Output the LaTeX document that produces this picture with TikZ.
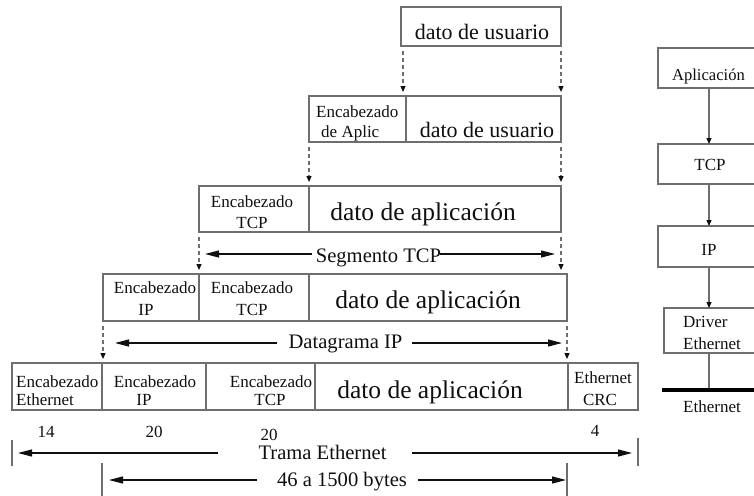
\documentclass[tikz,border=0pt]{standalone}
\usepackage{fontspec}
\setmainfont{Liberation Serif}
\usetikzlibrary{arrows.meta}
\definecolor{lg}{RGB}{110,110,110}
\definecolor{ink}{RGB}{15,15,15}
\begin{document}
\begin{tikzpicture}[x=1pt,y=-1pt,
  cell/.style={draw=lg, line width=1.3pt, inner sep=0pt, outer sep=0pt},
  sm/.style={font=\fontsize{17}{20}\selectfont, inner sep=0pt, anchor=base, text=ink},
  smw/.style={sm, anchor=base west},
  med/.style={font=\fontsize{20.6}{24}\selectfont, inner sep=0pt, anchor=base, text=ink},
  usr/.style={font=\fontsize{22}{26}\selectfont, inner sep=0pt, anchor=base, text=ink},
  apl/.style={font=\fontsize{25.5}{30}\selectfont, inner sep=0pt, anchor=base, text=ink},
  darr/.style={draw=lg, line width=1.2pt, dash pattern=on 4pt off 3pt,
    shorten <=5pt, shorten >=4pt, -{Triangle[length=6pt,width=5pt,color=ink]}},
  harr/.style={draw=ink, line width=1.2pt, -{Triangle[length=14pt,width=7pt]}},
  varr/.style={draw=lg, line width=1.2pt, -{Triangle[length=6pt,width=5pt,color=ink]}},
  bar/.style={draw=lg, line width=1.3pt}
]
\path[use as bounding box] (0,0) rectangle (754,495);
\clip (0,0) rectangle (754,495);

% ---------- Row 1
\node[cell, minimum width=160pt, minimum height=39pt] (r1) at (481,26.5) {};
\node[usr] (t1) at (482,40) {dato de usuario};

% ---------- Row 2
\node[cell, minimum width=97pt, minimum height=46pt] (r2a) at (357.5,119) {};
\node[cell, minimum width=155pt, minimum height=46pt] (r2b) at (483.5,119) {};
\node[smw] (t2a) at (316,117) {Encabezado};
\node[smw] (t2b) at (321,137) {de Aplic};
\node[usr] (t2c) at (487,137) {dato de usuario};

% ---------- Row 3
\node[cell, minimum width=110pt, minimum height=46pt] (r3a) at (254,209) {};
\node[cell, minimum width=252pt, minimum height=46pt] (r3b) at (435,209) {};
\node[sm] (t3a) at (252,207) {Encabezado};
\node[sm] (t3b) at (252,228) {TCP};
\node[apl] (t3c) at (423,220) {dato de aplicación};

% ---------- Row 4
\node[cell, minimum width=96pt, minimum height=47pt] (r4a) at (151,297.5) {};
\node[cell, minimum width=110pt, minimum height=47pt] (r4b) at (254,297.5) {};
\node[cell, minimum width=258pt, minimum height=47pt] (r4c) at (438,297.5) {};
\node[sm] (t4a) at (155,293) {Encabezado};
\node[sm] (t4b) at (146,315) {IP};
\node[sm] (t4c) at (252,293) {Encabezado};
\node[sm] (t4d) at (252,315) {TCP};
\node[apl] (t4e) at (428,308) {dato de aplicación};

% ---------- Row 5
\node[cell, minimum width=90pt, minimum height=47pt] (r5a) at (57,386.5) {};
\node[cell, minimum width=104pt, minimum height=47pt] (r5b) at (154,386.5) {};
\node[cell, minimum width=109pt, minimum height=47pt] (r5c) at (260.5,386.5) {};
\node[cell, minimum width=253pt, minimum height=47pt] (r5d) at (441.5,386.5) {};
\node[cell, minimum width=70pt, minimum height=47pt] (r5e) at (603,386.5) {};
\node[smw] (t5a) at (16,387) {Encabezado};
\node[smw] (t5b) at (16,405) {Ethernet};
\node[sm] (t5c) at (155,387) {Encabezado};
\node[sm] (t5d) at (144,405) {IP};
\node[sm] (t5e) at (271,387) {Encabezado};
\node[sm] (t5f) at (270,405) {TCP};
\node[apl] (t5g) at (430,398) {dato de aplicación};
\node[sm] (t5h) at (603,383) {Ethernet};
\node[sm] (t5i) at (600,405) {CRC};

% ---------- dashed arrows between rows
\draw[darr] ([xshift=2pt]r1.south west) -- ([xshift=2pt]r1.south west |- r2b.north);
\draw[darr] (r1.south east) -- (r1.south east |- r2b.north);
\draw[darr] (r2a.south west) -- (r2a.south west |- r3a.north);
\draw[darr] (r2b.south east) -- (r2b.south east |- r3b.north);
\draw[darr] (r3a.south west) -- (r3a.south west |- r4a.north);
\draw[darr] (r3b.south east) -- (r3b.south east |- r4c.north);
\draw[darr] (r4a.south west) -- (r4a.south west |- r5b.north);
\draw[darr] (r4c.south east) -- (r4c.south east |- r5d.north);

% ---------- Segmento TCP
\node[med] (seg) at (378.5,262) {Segmento TCP};
\coordinate (segL) at (205,254);
\coordinate (segR) at (555,254);
\coordinate (segLs) at (312,254);
\coordinate (segRs) at (440,254);
\draw[harr] (segLs) -- (segL);
\draw[harr] (segRs) -- (segR);

% ---------- Datagrama IP
\node[med] (dat) at (345.5,348) {Datagrama IP};
\coordinate (datL) at (115,343);
\coordinate (datR) at (562,343);
\coordinate (datLs) at (277,343);
\coordinate (datRs) at (412,343);
\draw[harr] (datLs) -- (datL);
\draw[harr] (datRs) -- (datR);

% ---------- byte counts
\node[sm] (n14) at (46,437) {14};
\node[sm] (n20a) at (154,437) {20};
\node[sm] (n20b) at (269,440) {20};
\node[sm] (n4) at (595,436) {4};

% ---------- Trama Ethernet
\node[med] (tra) at (322.5,459) {Trama Ethernet};
\coordinate (trbL1) at (12,440);
\coordinate (trbL2) at (12,466);
\coordinate (trbR1) at (638,438);
\coordinate (trbR2) at (638,466);
\draw[bar] (trbL1) -- (trbL2);
\draw[bar] (trbR1) -- (trbR2);
\coordinate (traL) at (18,453);
\coordinate (traR) at (632,453);
\coordinate (traLs) at (218,453);
\coordinate (traRs) at (412,453);
\draw[harr] (traLs) -- (traL);
\draw[harr] (traRs) -- (traR);

% ---------- 46 a 1500 bytes
\node[med] (byt) at (342,486) {46 a 1500 bytes};
\coordinate (bybL1) at (102,463);
\coordinate (bybL2) at (102,496);
\coordinate (bybR1) at (567,463);
\coordinate (bybR2) at (567,496);
\draw[bar] (bybL1) -- (bybL2);
\draw[bar] (bybR1) -- (bybR2);
\coordinate (bytL) at (109,480);
\coordinate (bytR) at (566,480);
\coordinate (bytLs) at (257,480);
\coordinate (bytRs) at (418,480);
\draw[harr] (bytLs) -- (bytL);
\draw[harr] (bytRs) -- (bytR);

% ---------- protocol stack
\node[cell, minimum width=104pt, minimum height=40pt] (sa) at (710,68) {};
\node[cell, minimum width=104pt, minimum height=40pt] (sb) at (710,164) {};
\node[cell, minimum width=104pt, minimum height=41pt] (sc) at (710,246.5) {};
\node[cell, minimum width=98pt, minimum height=45pt] (sd) at (713,330.5) {};
\node[sm, font=\fontsize{16.6}{20}\selectfont] (ta) at (708.5,80) {Aplicación};
\node[sm] (tb) at (710,170) {TCP};
\node[sm] (tc) at (709,255) {IP};
\node[smw] (td1) at (683,327) {Driver};
\node[smw] (td2) at (683,349) {Ethernet};
\draw[varr] ([xshift=-1pt]sa.south) -- ([xshift=-1pt]sb.north);
\draw[varr] ([xshift=-1pt]sb.south) -- ([xshift=-1pt]sc.north);
\draw[varr] ([xshift=-1pt]sc.south) -- ([xshift=-4pt]sd.north);
\coordinate (ethL) at (662,390);
\coordinate (ethR) at (758,390);
\draw[bar] ([xshift=-4pt]sd.south) -- ([xshift=-4pt]sd.south |- ethL);
\draw[line width=4pt, draw=black] (ethL) -- (ethR);
\node[sm] (te) at (712,412) {Ethernet};
\end{tikzpicture}
\end{document}
